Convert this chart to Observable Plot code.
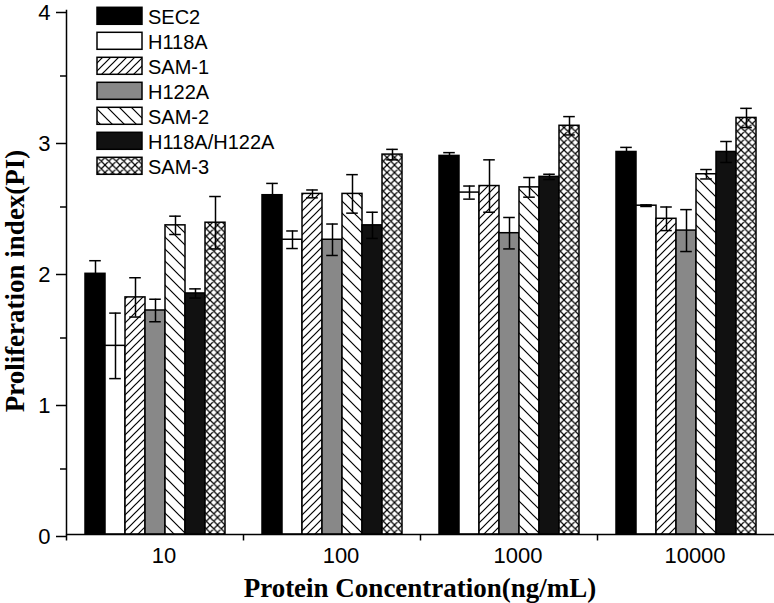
<!DOCTYPE html>
<html><head><meta charset="utf-8">
<script src="https://cdn.jsdelivr.net/npm/d3@7"></script>
<script src="https://cdn.jsdelivr.net/npm/@observablehq/plot@0.6"></script>
<style>body{margin:0;background:#fff}#chart{position:relative;width:774px;height:603px}</style>
</head><body><div id="chart"></div>
<script>
// ---- data ----
const concentrations = ["10", "100", "1000", "10000"];
const series = ["SEC2", "H118A", "SAM-1", "H122A", "SAM-2", "H118A/H122A", "SAM-3"];

const sec2       = [1.99, 2.59, 2.89, 2.92];
const h118a      = [1.44, 2.25, 2.61, 2.51];
const sam1       = [1.81, 2.60, 2.66, 2.41];
const h122a      = [1.71, 2.25, 2.30, 2.32];
const sam2       = [2.36, 2.60, 2.65, 2.75];
const h118aH122a = [1.84, 2.36, 2.73, 2.92];
const sam3       = [2.38, 2.90, 3.12, 3.18];

const sec2Err       = [0.10, 0.09, 0.025, 0.035];
const h118aErr      = [0.25, 0.067, 0.05, 0.006];
const sam1Err       = [0.15, 0.03, 0.20, 0.09];
const h122aErr      = [0.086, 0.12, 0.12, 0.16];
const sam2Err       = [0.07, 0.147, 0.075, 0.036];
const h118aH122aErr = [0.035, 0.10, 0.02, 0.08];
const sam3Err       = [0.20, 0.04, 0.07, 0.073];

const yTicks = [0, 1, 2, 3, 4];
const yMinorTicks = [0.5, 1.5, 2.5, 3.5];

const values = [sec2, h118a, sam1, h122a, sam2, h118aH122a, sam3];
const errors = [sec2Err, h118aErr, sam1Err, h122aErr, sam2Err, h118aH122aErr, sam3Err];

const rows = [];
series.forEach((s, i) => concentrations.forEach((c, j) =>
  rows.push({series: s, conc: c, value: values[i][j], err: errors[i][j]})));

// ---- styles ----
const fills = ["#000000", "#ffffff", "url(#hatchFwd)", "#888888", "url(#hatchBack)", "#111111", "url(#crossHatch)"];
const tickDown = {draw(ctx) { ctx.moveTo(0, 0); ctx.lineTo(0, 6); }};

const chart = Plot.plot({
  width: 774, height: 603,
  marginLeft: 66, marginRight: 0, marginTop: 10, marginBottom: 69,
  style: {fontFamily: "'Liberation Sans', Arial, sans-serif", fontSize: "22px", background: "white", color: "black"},
  fx: {domain: concentrations, padding: 0},
  x: {domain: series, paddingInner: 0, paddingOuter: 0.84, axis: null},
  y: {domain: [0, 4]},
  color: {type: "ordinal", domain: series, range: fills},
  marks: [
    Plot.barY(rows, {fx: "conc", x: "series", y: "value", fill: "series", stroke: "black", strokeWidth: 1.5, inset: 0}),
    Plot.ruleX(rows, {fx: "conc", x: "series", y1: d => d.value - d.err, y2: d => d.value + d.err, stroke: "black", strokeWidth: 1.5}),
    Plot.tickY(rows, {fx: "conc", x: "series", y: d => d.value + d.err, stroke: "black", strokeWidth: 1.5, insetLeft: 4.2, insetRight: 4.2}),
    Plot.tickY(rows, {fx: "conc", x: "series", y: d => d.value - d.err, stroke: "black", strokeWidth: 1.5, insetLeft: 4.2, insetRight: 4.2}),
    Plot.ruleY([0], {stroke: "black", strokeWidth: 1.5}),
    Plot.dot([0], {frameAnchor: "bottom-left", symbol: tickDown, stroke: "black", fill: "none", strokeWidth: 1.5}),
    Plot.frame({anchor: "left", facetAnchor: "left", stroke: "black", strokeWidth: 1.5}),
    Plot.axisY({ticks: yTicks, tickSize: 10, tickPadding: 6, fontSize: 22, dy: 2, tickFormat: d => String(d), label: null, strokeWidth: 1.5, facetAnchor: "left"}),
    Plot.axisY({ticks: yMinorTicks, tickSize: 6, tickFormat: () => "", label: null, strokeWidth: 1.5, facetAnchor: "left"}),
    Plot.axisFx({anchor: "bottom", tickSize: 0, tickPadding: 13, fontSize: 22, dx: 9, label: null})
  ]
});

document.getElementById("chart").appendChild(chart);
const svg = d3.select(chart);

// patterns
const defs = svg.insert("defs", ":first-child");
function pattern(id, s, d) {
  const p = defs.append("pattern").attr("id", id).attr("patternUnits", "userSpaceOnUse")
    .attr("width", s).attr("height", s);
  p.append("rect").attr("width", s).attr("height", s).attr("fill", "white");
  p.append("path").attr("d", d).attr("stroke", "black").attr("stroke-width", 1.2).attr("fill", "none");
}
const fwd = s => `M0,${s}L${s},0M${-s/4},${s/4}L${s/4},${-s/4}M${3*s/4},${5*s/4}L${5*s/4},${3*s/4}`;
const back = s => `M0,0L${s},${s}M${-s/4},${3*s/4}L${s/4},${5*s/4}M${3*s/4},${-s/4}L${5*s/4},${s/4}`;
pattern("hatchFwd", 8, fwd(8));
pattern("hatchBack", 12, back(12));
pattern("crossHatch", 7.5, fwd(7.5) + back(7.5));

// legend
const lg = svg.append("g").attr("text-anchor", "start");
series.forEach((s, i) => {
  lg.append("rect").attr("x", 97).attr("y", 7.3 + 25 * i).attr("width", 45).attr("height", 17)
    .attr("fill", fills[i]).attr("stroke", "black").attr("stroke-width", 1.5);
  lg.append("text").attr("x", 148).attr("y", 23.5 + 25 * i).attr("font-size", 20)
    .attr("text-anchor", "start")
    .attr("font-family", "'Liberation Sans', Arial, sans-serif").attr("fill", "black").text(s);
});

// axis titles
svg.append("text").attr("x", 420).attr("y", 597).attr("text-anchor", "middle")
  .attr("font-family", "'Liberation Serif', 'Times New Roman', serif").attr("font-weight", "bold")
  .attr("font-size", 27).attr("fill", "black").text("Protein Concentration(ng/mL)");
svg.append("text").attr("transform", "translate(24,281) rotate(-90)").attr("text-anchor", "middle")
  .attr("font-family", "'Liberation Serif', 'Times New Roman', serif").attr("font-weight", "bold")
  .attr("font-size", 27).attr("fill", "black").text("Proliferation index(PI)");
</script>
</body></html>
